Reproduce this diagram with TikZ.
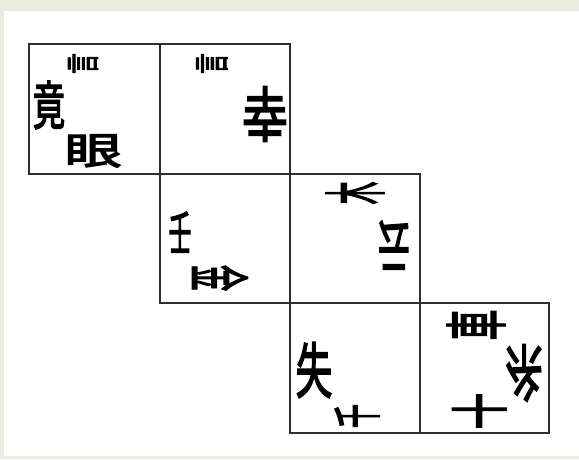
\documentclass[tikz,border=0pt]{standalone}
\usepackage{fontspec}
\usepackage{graphicx}
\newfontfamily\cjk{Noto Sans CJK JP}[FakeBold=3]
\definecolor{bg}{HTML}{ECEBE0}
\definecolor{ln}{HTML}{2E2E2E}
\newcommand{\kz}[3]{\scalebox{#1}[#2]{#3}}
\begin{document}
\begin{tikzpicture}[x=1pt,y=-1pt,
  face/.style={draw=ln,line width=1.7pt},
  kj/.style={inner sep=0pt,font=\cjk\fontsize{40}{40}\selectfont}]
\useasboundingbox (0,0) rectangle (579,459);
\fill[bg] (0,0) rectangle (579,459);
\fill[white] (4,11) rectangle (579,456);
% faces
\draw[face] (29,44) rectangle (160,174);
\draw[face] (160,44) rectangle (290,174);
\draw[face] (160,174) rectangle (290,303);
\draw[face] (290,174) rectangle (420,303);
\draw[face] (290,303) rectangle (420,433);
\draw[face] (420,303) rectangle (549,433);
% face A
\node[kj] (a1) at (49,105) {\kz{0.8}{1.31}{竟}};
\node[kj,rotate=90] (a2) at (83,63.5) {\kz{0.52}{0.86}{言}};
\node[kj] (a3) at (93,151) {\kz{1.43}{0.94}{眼}};
% face B
\node[kj,rotate=90] (b1) at (212,63.5) {\kz{0.52}{0.9}{言}};
\node[kj,rotate=180] (b2) at (265,114) {\kz{1.14}{1.49}{幸}};
% face C
\node[kj] (c1) at (180,232) {\kz{0.57}{1.17}{壬}};
\node[kj,rotate=-90] (c2) at (220,278) {\kz{0.66}{1.54}{金}};
% face D
\node[kj,rotate=90] (d1) at (355,193) {\kz{0.57}{1.57}{木}};
\node[kj,rotate=180] (d2) at (394,245) {\kz{0.8}{1.43}{云}};
% face E
\node[kj] (e1) at (314,370) {\kz{0.91}{1.51}{失}};
\node[kj,rotate=90] (e2) at (357,416) {\kz{0.6}{1.23}{千}};
% face F
\node[kj,rotate=90] (f1) at (476,325) {\kz{0.77}{1.57}{車}};
\node[kj,rotate=180] (f2) at (524,373) {\kz{0.94}{1.54}{糸}};
\node[kj] (f3) at (479,411) {\kz{1.49}{0.89}{十}};
\end{tikzpicture}
\end{document}
